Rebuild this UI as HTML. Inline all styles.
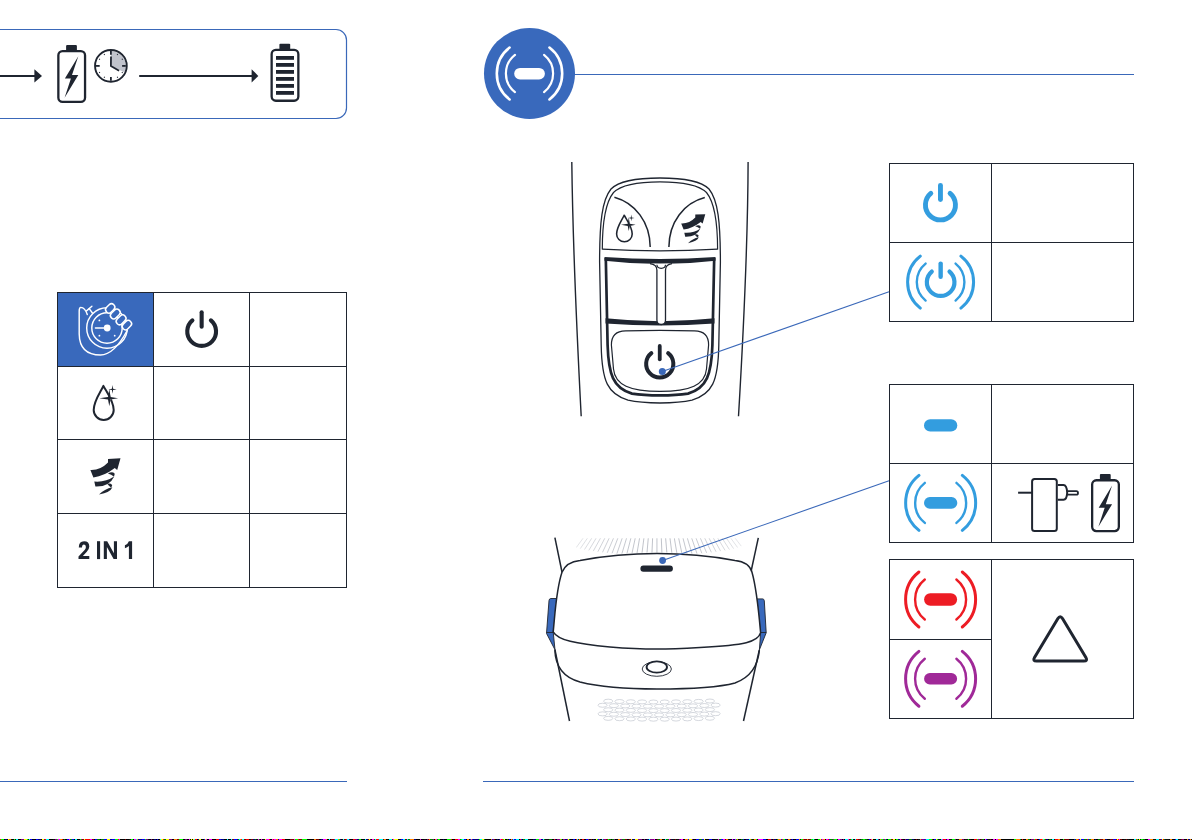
<!DOCTYPE html><html><head><meta charset="utf-8"><style>html,body{margin:0;padding:0;background:#fff;width:1192px;height:840px;overflow:hidden;font-family:"Liberation Sans",sans-serif;}svg{position:absolute;left:0;top:0;display:block}</style></head><body>
<svg width="1192" height="840" viewBox="0 0 1192 840">
<path d="M-20 29.5 H336 A10.5 10.5 0 0 1 346.5 40 V108 A10.5 10.5 0 0 1 336 118.5 H-20" fill="none" stroke="#3a68b9" stroke-width="1.2"/>
<line x1="-2" y1="75.9" x2="36" y2="75.9" stroke="#1f2530" stroke-width="2"/>
<polygon points="34.4,69.2 42,75.9 34.4,82.6" fill="#1f2530"/>
<g transform="translate(57.2 50)"><rect x="1.15" y="1.15" width="26.7" height="50.8" rx="4.2" fill="none" stroke="#1f2530" stroke-width="2.3"/><path d="M8.9 1.5 V-4 Q8.9 -5 9.9 -5 H18.7 Q19.7 -5 19.7 -4 V1.5 Z" fill="#1f2530"/><polygon points="21.1,6.3 7.7,28.6 13.7,28.6 7.4,47.7 21.1,25.1 14.8,25.1" fill="#1f2530"/></g>
<path d="M110.9 65.9 V50.9 A15 15 0 0 1 124.44 72.36 Z" fill="#c0c3cc"/>
<circle cx="110.9" cy="65.9" r="15.85" fill="none" stroke="#1f2530" stroke-width="1.9"/>
<line x1="110.9" y1="54.7" x2="110.9" y2="51" stroke="#1f2530" stroke-width="1.8"/>
<line x1="117.2" y1="54.99" x2="117.7" y2="54.12" stroke="#1f2530" stroke-width="1.1"/>
<line x1="121.81" y1="59.6" x2="122.68" y2="59.1" stroke="#1f2530" stroke-width="1.1"/>
<line x1="122.1" y1="65.9" x2="125.8" y2="65.9" stroke="#1f2530" stroke-width="1.8"/>
<line x1="121.81" y1="72.2" x2="122.68" y2="72.7" stroke="#1f2530" stroke-width="1.1"/>
<line x1="117.2" y1="76.81" x2="117.7" y2="77.68" stroke="#1f2530" stroke-width="1.1"/>
<line x1="110.9" y1="77.1" x2="110.9" y2="80.8" stroke="#1f2530" stroke-width="1.8"/>
<line x1="104.6" y1="76.81" x2="104.1" y2="77.68" stroke="#1f2530" stroke-width="1.1"/>
<line x1="99.99" y1="72.2" x2="99.12" y2="72.7" stroke="#1f2530" stroke-width="1.1"/>
<line x1="99.7" y1="65.9" x2="96" y2="65.9" stroke="#1f2530" stroke-width="1.8"/>
<line x1="99.99" y1="59.6" x2="99.12" y2="59.1" stroke="#1f2530" stroke-width="1.1"/>
<line x1="104.6" y1="54.99" x2="104.1" y2="54.12" stroke="#1f2530" stroke-width="1.1"/>
<polyline points="111,56.5 110.9,65.9 119.1,70.8" fill="none" stroke="#1f2530" stroke-width="1.8" stroke-linejoin="round"/>
<line x1="139.2" y1="75.9" x2="253" y2="75.9" stroke="#1f2530" stroke-width="2"/>
<polygon points="251.6,69.2 258.3,75.9 251.6,82.6" fill="#1f2530"/>
<g transform="translate(270.5 48.8)"><rect x="1.15" y="1.15" width="26.7" height="50.8" rx="4.2" fill="none" stroke="#1f2530" stroke-width="2.3"/><path d="M8.9 1.5 V-4 Q8.9 -5 9.9 -5 H18.7 Q19.7 -5 19.7 -4 V1.5 Z" fill="#1f2530"/><rect x="5.5" y="7.2" width="18" height="3.8" fill="#1f2530"/><rect x="5.5" y="14.2" width="18" height="3.8" fill="#1f2530"/><rect x="5.5" y="21.2" width="18" height="3.8" fill="#1f2530"/><rect x="5.5" y="28.2" width="18" height="3.8" fill="#1f2530"/><rect x="5.5" y="35.2" width="18" height="3.8" fill="#1f2530"/><rect x="5.5" y="42.2" width="18" height="3.8" fill="#1f2530"/></g>
<line x1="570" y1="74.5" x2="1134" y2="74.5" stroke="#3a68b9" stroke-width="1.1"/>
<circle cx="529.5" cy="73.5" r="45.5" fill="#3969bc"/>
<rect x="514.2" y="67.9" width="30.7" height="11.6" rx="5.8" fill="#fff"/>
<path d="M514.97 54.9 A23.6 23.6 0 0 0 514.97 92.1" fill="none" stroke="#fff" stroke-width="2.2" stroke-linecap="round"/><path d="M544.03 54.9 A23.6 23.6 0 0 1 544.03 92.1" fill="none" stroke="#fff" stroke-width="2.2" stroke-linecap="round"/>
<path d="M509.59 47.56 A32.7 32.7 0 0 0 509.59 99.44" fill="none" stroke="#fff" stroke-width="2.6" stroke-linecap="round"/><path d="M549.41 47.56 A32.7 32.7 0 0 1 549.41 99.44" fill="none" stroke="#fff" stroke-width="2.6" stroke-linecap="round"/>
<line x1="0" y1="781.5" x2="347" y2="781.5" stroke="#3a68b9" stroke-width="1.1"/>
<line x1="483" y1="781.5" x2="1134" y2="781.5" stroke="#3a68b9" stroke-width="1.1"/>
<rect x="57.5" y="292.5" width="96" height="74" fill="#3969bc"/>
<g stroke="#1f2530" stroke-width="1" fill="none" shape-rendering="crispEdges">
<rect x="57.5" y="292.5" width="289" height="295"/>
<line x1="153.5" y1="292" x2="153.5" y2="588"/>
<line x1="249.5" y1="292" x2="249.5" y2="588"/>
<line x1="57" y1="366.5" x2="347" y2="366.5"/>
<line x1="57" y1="439.5" x2="347" y2="439.5"/>
<line x1="57" y1="513.5" x2="347" y2="513.5"/>
</g>
<path d="M192.39 320.42 A14.4 14.4 0 1 0 210.91 320.42" fill="none" stroke="#1f2530" stroke-width="4.1" stroke-linecap="round"/><line x1="201.65" y1="312.35" x2="201.65" y2="326.65" stroke="#1f2530" stroke-width="4.1" stroke-linecap="round"/>
<g stroke="#1f2530" stroke-width="1" fill="none" shape-rendering="crispEdges">
<rect x="889.5" y="163.5" width="244" height="158"/>
<line x1="991.5" y1="163" x2="991.5" y2="322"/>
<line x1="889" y1="242.5" x2="1134" y2="242.5"/>
<rect x="889.5" y="384.5" width="244" height="158"/>
<line x1="991.5" y1="384" x2="991.5" y2="543"/>
<line x1="889" y1="463.5" x2="1134" y2="463.5"/>
<rect x="889.5" y="559.5" width="244" height="159"/>
<line x1="991.5" y1="559" x2="991.5" y2="719"/>
<line x1="889" y1="639.5" x2="992" y2="639.5"/>
</g>
<path d="M930.81 193.41 A15 15 0 1 0 950.09 193.41" fill="none" stroke="#339ddf" stroke-width="4.9" stroke-linecap="round"/><line x1="940.45" y1="185.35" x2="940.45" y2="199.55" stroke="#339ddf" stroke-width="4.9" stroke-linecap="round"/>
<path d="M931.78 271.53 A13.8 13.8 0 1 0 949.52 271.53" fill="none" stroke="#339ddf" stroke-width="4.2" stroke-linecap="round"/><line x1="940.65" y1="263.6" x2="940.65" y2="276.8" stroke="#339ddf" stroke-width="4.4" stroke-linecap="round"/>
<path d="M925.62 263.6 A23.8 23.8 0 0 0 925.62 300.6" fill="none" stroke="#339ddf" stroke-width="2.4" stroke-linecap="round"/><path d="M955.58 263.6 A23.8 23.8 0 0 1 955.58 300.6" fill="none" stroke="#339ddf" stroke-width="2.4" stroke-linecap="round"/>
<path d="M920.28 256.1 A33 33 0 0 0 920.28 308.1" fill="none" stroke="#339ddf" stroke-width="3" stroke-linecap="round"/><path d="M960.92 256.1 A33 33 0 0 1 960.92 308.1" fill="none" stroke="#339ddf" stroke-width="3" stroke-linecap="round"/>
<rect x="924" y="419.2" width="33.3" height="12.4" rx="6.2" fill="#339ddf"/>
<rect x="924" y="497.1" width="33.3" height="11.6" rx="5.8" fill="#339ddf"/>
<path d="M924.85 482.89 A25.5 25.5 0 0 0 924.85 522.91" fill="none" stroke="#339ddf" stroke-width="2.4" stroke-linecap="round"/><path d="M956.45 482.89 A25.5 25.5 0 0 1 956.45 522.91" fill="none" stroke="#339ddf" stroke-width="2.4" stroke-linecap="round"/>
<path d="M918.96 475.43 A35 35 0 0 0 918.96 530.37" fill="none" stroke="#339ddf" stroke-width="3" stroke-linecap="round"/><path d="M962.34 475.43 A35 35 0 0 1 962.34 530.37" fill="none" stroke="#339ddf" stroke-width="3" stroke-linecap="round"/>
<g transform="translate(1091 479.1)"><rect x="1.15" y="1.15" width="26.7" height="50.8" rx="4.2" fill="none" stroke="#1f2530" stroke-width="2.3"/><path d="M8.9 1.5 V-4 Q8.9 -5 9.9 -5 H18.7 Q19.7 -5 19.7 -4 V1.5 Z" fill="#1f2530"/><polygon points="21.1,6.3 7.7,28.6 13.7,28.6 7.4,47.7 21.1,25.1 14.8,25.1" fill="#1f2530"/></g>
<g fill="none" stroke="#1f2530" stroke-width="2">
<rect x="1032.1" y="479.1" width="24.7" height="51.8" rx="2.5"/>
<line x1="1018.1" y1="492.7" x2="1032" y2="492.7"/>
<path d="M1057.8 485.1 H1063.5 Q1066.8 485.1 1067.2 492.9 Q1066.8 499.7 1063.5 499.7 H1057.8"/>
<path d="M1067.4 491.1 H1076.3 Q1078 491.1 1078 492.9 Q1078 494.7 1076.3 494.7 H1067.4" stroke-width="1.8"/>
</g>
<rect x="924.1" y="593.2" width="33" height="12.5" rx="6.2" fill="#ed1c24"/>
<path d="M924.8 579.49 A25.5 25.5 0 0 0 924.8 619.51" fill="none" stroke="#ed1c24" stroke-width="2.4" stroke-linecap="round"/><path d="M956.4 579.49 A25.5 25.5 0 0 1 956.4 619.51" fill="none" stroke="#ed1c24" stroke-width="2.4" stroke-linecap="round"/>
<path d="M918.91 572.03 A35 35 0 0 0 918.91 626.97" fill="none" stroke="#ed1c24" stroke-width="3" stroke-linecap="round"/><path d="M962.29 572.03 A35 35 0 0 1 962.29 626.97" fill="none" stroke="#ed1c24" stroke-width="3" stroke-linecap="round"/>
<rect x="924.1" y="673" width="33" height="11.5" rx="5.7" fill="#a02998"/>
<path d="M924.8 658.79 A25.5 25.5 0 0 0 924.8 698.81" fill="none" stroke="#a02998" stroke-width="2.4" stroke-linecap="round"/><path d="M956.4 658.79 A25.5 25.5 0 0 1 956.4 698.81" fill="none" stroke="#a02998" stroke-width="2.4" stroke-linecap="round"/>
<path d="M918.91 651.33 A35 35 0 0 0 918.91 706.27" fill="none" stroke="#a02998" stroke-width="3" stroke-linecap="round"/><path d="M962.29 651.33 A35 35 0 0 1 962.29 706.27" fill="none" stroke="#a02998" stroke-width="3" stroke-linecap="round"/>
<path d="M1057.9 618.6 Q1060.2 614.7 1062.5 618.6 L1085.9 657.5 Q1088 661.1 1083.8 661.1 H1036.6 Q1032.4 661.1 1034.5 657.5 Z" fill="none" stroke="#1f2530" stroke-width="3" stroke-linejoin="round"/>
<g fill="none" stroke="#fff" stroke-width="1.45" stroke-linecap="round" stroke-linejoin="round">
<circle cx="107" cy="328" r="15.2"/>
<circle cx="107" cy="328" r="20.3"/>
<path d="M87.3 314.5 Q85 307.6 80.8 307.4 Q79.2 307.5 79.2 311 L79.2 334 Q79.5 355 100.5 355 Q114 355 127.2 330.5"/>
<line x1="86.5" y1="310.9" x2="91.9" y2="306.3"/>
<line x1="89.2" y1="308.6" x2="92.6" y2="313.2"/>
<line x1="95.4" y1="328" x2="106" y2="328"/>
</g>
<circle cx="107.2" cy="328" r="3.4" fill="#fff"/>
<circle cx="99.4" cy="320.4" r="0.9" fill="#fff"/>
<circle cx="99.4" cy="335.7" r="0.9" fill="#fff"/>
<circle cx="114.7" cy="335.7" r="0.9" fill="#fff"/>
<rect x="105.1" y="305.1" width="10.2" height="6.6" rx="3.3" transform="rotate(-45 110.2 308.4)" fill="#3969bc" stroke="#fff" stroke-width="1.5"/>
<rect x="109.8" y="310.7" width="11" height="6.6" rx="3.3" transform="rotate(-45 115.3 314)" fill="#3969bc" stroke="#fff" stroke-width="1.5"/>
<rect x="115.6" y="316.5" width="11" height="6.6" rx="3.3" transform="rotate(-45 121.1 319.8)" fill="#3969bc" stroke="#fff" stroke-width="1.5"/>
<rect x="121.7" y="321.8" width="10.4" height="6.6" rx="3.3" transform="rotate(-45 126.9 325.1)" fill="#3969bc" stroke="#fff" stroke-width="1.5"/>
<g transform="translate(103.7 410) scale(1)"><path d="M-0.3 -24.1 C-3 -18 -10 -9 -10 0 A10 10 0 0 0 10 0 C10 -9 3 -18 -0.3 -24.1 Z" fill="none" stroke="#1f2530" stroke-width="2" stroke-linejoin="round"/><circle cx="5.6" cy="-11.7" r="2.3" fill="#fff"/><polygon points="-4.4,-11.7 4.3,-13 5.6,-21 6.9,-13 14.4,-11.7 6.9,-10.4 5.6,-3.7 4.3,-10.4" fill="#1f2530"/><polygon points="4.7,-20.6 8.2,-21.2 8.8,-24.9 9.4,-21.2 13,-20.6 9.4,-20 8.8,-16.3 8.2,-20" fill="#1f2530"/></g>
<g transform="translate(90.4 458) scale(1)" fill="#1f2530"><path d="M0 12 Q10 12.5 17.6 4.6 L17.6 0.9 L30.1 0.3 L26.8 11.9 L24.4 10 Q14 18 3 19.4 Z"/><path d="M17.5 15.4 Q22 13 24.2 15.5 Q24.5 17 23.4 18.6 Q21 16.5 17.5 15.4 Z"/><path d="M3.9 23.5 Q15 24.5 24 18.2 Q19 29 5 28.5 Z"/><path d="M16.8 25.8 Q20 25 21.8 27 Q21.6 28.5 20.5 29.5 Q18 27.5 16.8 25.8 Z"/><path d="M8.6 36.6 Q14 31 22 29.3 Q20 34.5 8.6 36.6 Z"/></g>
<g fill="#1f2530">
<path d="M78.8 547.4 Q78.8 541.3 84.1 541.3 Q89.3 541.3 89.3 546.6 Q89.3 549.2 86.8 551.8 L82.9 555.9 H89.3 V559.1 H78.5 V556.6 L84.4 550.2 Q85.9 548.5 85.9 546.9 Q85.9 544.4 84 544.4 Q82 544.4 82 547.4 Z"/>
<rect x="97" y="541.2" width="3.1" height="17.9"/>
<path d="M103.8 541.2 H107.2 L113.9 553.3 V541.2 H117 V559.1 H113.6 L106.9 547 V559.1 H103.8 Z"/>
<path d="M128.9 541.2 H132.1 V559.1 H128.9 V546.1 Q127.2 547.7 124.9 548.2 V545.2 Q127.8 544.3 128.9 541.2 Z"/>
</g>
<g fill="none" stroke="#1f2530" stroke-width="1.4">
<path d="M571.8 162 Q573 260 581.2 416.2"/>
<path d="M748.1 162 Q747.8 260 738.5 416.2"/>
<path d="M660 178 C680 178 700 180 709 189 C718 200 720.4 222 720.4 262 L718.8 345 C718.2 382 712 394 692 400.2 C680 403 670 403 660 403 C650 403 640 403 628 400.2 C608 394 601.8 382 601.2 345 L599.6 262 C599.6 222 602 200 611 189 C620 180 640 178 660 178 Z" stroke-width="1.3"/>
<path d="M602.3 249.5 C602.3 222 605 203 613.5 192.5 C622 184 641 181.8 660 181.8 C679 181.8 698 184 706.5 192.5 C715 203 717.6 222 717.6 249.5" stroke-width="1.2"/>
<path d="M602.3 249.2 Q660 252.6 717.6 249.2" stroke-width="1.3"/>
<path d="M614.4 197.3 C635 203 650 222 650.2 247.1" stroke-width="1.5"/>
<path d="M704.8 197.6 C684 203 669 222 668.9 247.1" stroke-width="1.5"/>
<path d="M605.8 258 L607.6 345 C608.5 374 613 388 632 393.6 C642 395.2 651 395.4 660 395.4 C669 395.4 678 395.2 688 393.6 C707 388 711.5 374 712.4 345 L714.2 258" stroke-width="2.7"/>
<path d="M625.5 330.9 Q660 330 694.5 330.9 Q708.6 331 708.6 345 L706.5 369 C705 385 690 391.4 660 391.4 C630 391.4 615 385 613.5 369 L611.4 345 Q611.4 331 625.5 330.9 Z" stroke-width="1.2"/>
</g>
<path d="M604.5 257 Q660 261.2 715.5 257 L715.5 260.7 Q660 267.3 604.5 260.7 Z" fill="#1f2530"/>
<path d="M605.5 318.3 Q660 324.1 714.5 318.3 L714.5 323.5 Q660 327.5 605.5 323.5 Z" fill="#1f2530"/>
<path d="M650 263.6 Q656.9 264.5 656.9 270 L656.9 320 Q657 324.5 661.2 324.5 Q665.5 324.5 665.5 320 L665.5 270 Q665.5 264.5 672 263.6" fill="#fff" stroke="#1f2530" stroke-width="1.3"/>
<path d="M656.9 264.8 Q657 268.3 661.2 268.3 Q665.5 268.3 665.5 264.8" fill="none" stroke="#1f2530" stroke-width="1.2"/>
<path d="M651.38 353.18 A13.6 13.6 0 1 0 668.12 353.18" fill="none" stroke="#1f2530" stroke-width="4" stroke-linecap="round"/><line x1="659.75" y1="346" x2="659.75" y2="359.3" stroke="#1f2530" stroke-width="3.8" stroke-linecap="round"/>
<g transform="translate(624.4 234) scale(0.78)"><path d="M-0.3 -24.1 C-3 -18 -10 -9 -10 0 A10 10 0 0 0 10 0 C10 -9 3 -18 -0.3 -24.1 Z" fill="none" stroke="#1f2530" stroke-width="2" stroke-linejoin="round"/><circle cx="5.6" cy="-11.7" r="2.3" fill="#fff"/><polygon points="-4.4,-11.7 4.3,-13 5.6,-21 6.9,-13 14.4,-11.7 6.9,-10.4 5.6,-3.7 4.3,-10.4" fill="#1f2530"/><polygon points="4.7,-20.6 8.2,-21.2 8.8,-24.9 9.4,-21.2 13,-20.6 9.4,-20 8.8,-16.3 8.2,-20" fill="#1f2530"/></g>
<g transform="translate(681.2 213.9) scale(0.8)" fill="#1f2530"><path d="M0 12 Q10 12.5 17.6 4.6 L17.6 0.9 L30.1 0.3 L26.8 11.9 L24.4 10 Q14 18 3 19.4 Z"/><path d="M17.5 15.4 Q22 13 24.2 15.5 Q24.5 17 23.4 18.6 Q21 16.5 17.5 15.4 Z"/><path d="M3.9 23.5 Q15 24.5 24 18.2 Q19 29 5 28.5 Z"/><path d="M16.8 25.8 Q20 25 21.8 27 Q21.6 28.5 20.5 29.5 Q18 27.5 16.8 25.8 Z"/><path d="M8.6 36.6 Q14 31 22 29.3 Q20 34.5 8.6 36.6 Z"/></g>
<line x1="662.3" y1="371.4" x2="889" y2="291.7" stroke="#3a68b9" stroke-width="1.1"/>
<circle cx="662.3" cy="371.4" r="3.5" fill="#3a68b9"/>
<line x1="583" y1="538.3" x2="576.34" y2="547.46" stroke="#9ea3ad" stroke-width="0.65" opacity="0.46"/>
<line x1="587.35" y1="538.3" x2="580.31" y2="548.58" stroke="#9ea3ad" stroke-width="0.65" opacity="0.52"/>
<line x1="591.7" y1="538.3" x2="584.49" y2="549.54" stroke="#9ea3ad" stroke-width="0.65" opacity="0.58"/>
<line x1="596.05" y1="538.3" x2="588.82" y2="550.38" stroke="#9ea3ad" stroke-width="0.65" opacity="0.63"/>
<line x1="600.4" y1="538.3" x2="593.28" y2="551.11" stroke="#9ea3ad" stroke-width="0.65" opacity="0.68"/>
<line x1="604.75" y1="538.3" x2="597.85" y2="551.75" stroke="#9ea3ad" stroke-width="0.65" opacity="0.73"/>
<line x1="609.1" y1="538.3" x2="602.51" y2="552.32" stroke="#9ea3ad" stroke-width="0.65" opacity="0.77"/>
<line x1="613.45" y1="538.3" x2="607.24" y2="552.81" stroke="#9ea3ad" stroke-width="0.65" opacity="0.81"/>
<line x1="617.8" y1="538.3" x2="612.04" y2="553.25" stroke="#9ea3ad" stroke-width="0.65" opacity="0.85"/>
<line x1="622.15" y1="538.3" x2="616.9" y2="553.63" stroke="#9ea3ad" stroke-width="0.65" opacity="0.88"/>
<line x1="626.5" y1="538.3" x2="621.89" y2="553.68" stroke="#9ea3ad" stroke-width="0.65" opacity="0.91"/>
<line x1="630.85" y1="538.3" x2="626.97" y2="553.4" stroke="#9ea3ad" stroke-width="0.65" opacity="0.93"/>
<line x1="635.2" y1="538.3" x2="632.02" y2="553.15" stroke="#9ea3ad" stroke-width="0.65" opacity="0.95"/>
<line x1="639.55" y1="538.3" x2="637.04" y2="552.95" stroke="#9ea3ad" stroke-width="0.65" opacity="0.97"/>
<line x1="643.9" y1="538.3" x2="642.03" y2="552.8" stroke="#9ea3ad" stroke-width="0.65" opacity="0.98"/>
<line x1="648.25" y1="538.3" x2="647.01" y2="552.69" stroke="#9ea3ad" stroke-width="0.65" opacity="0.99"/>
<line x1="652.6" y1="538.3" x2="651.98" y2="552.62" stroke="#9ea3ad" stroke-width="0.65" opacity="1"/>
<line x1="656.95" y1="538.3" x2="656.94" y2="552.6" stroke="#9ea3ad" stroke-width="0.65" opacity="1"/>
<line x1="661.3" y1="538.3" x2="661.9" y2="552.62" stroke="#9ea3ad" stroke-width="0.65" opacity="1"/>
<line x1="665.65" y1="538.3" x2="666.87" y2="552.69" stroke="#9ea3ad" stroke-width="0.65" opacity="0.99"/>
<line x1="670" y1="538.3" x2="671.85" y2="552.8" stroke="#9ea3ad" stroke-width="0.65" opacity="0.98"/>
<line x1="674.35" y1="538.3" x2="676.85" y2="552.95" stroke="#9ea3ad" stroke-width="0.65" opacity="0.97"/>
<line x1="678.7" y1="538.3" x2="681.87" y2="553.15" stroke="#9ea3ad" stroke-width="0.65" opacity="0.95"/>
<line x1="683.05" y1="538.3" x2="686.91" y2="553.39" stroke="#9ea3ad" stroke-width="0.65" opacity="0.93"/>
<line x1="687.4" y1="538.3" x2="691.99" y2="553.68" stroke="#9ea3ad" stroke-width="0.65" opacity="0.91"/>
<line x1="691.75" y1="538.3" x2="696.99" y2="553.64" stroke="#9ea3ad" stroke-width="0.65" opacity="0.88"/>
<line x1="696.1" y1="538.3" x2="701.85" y2="553.26" stroke="#9ea3ad" stroke-width="0.65" opacity="0.85"/>
<line x1="700.45" y1="538.3" x2="706.65" y2="552.83" stroke="#9ea3ad" stroke-width="0.65" opacity="0.81"/>
<line x1="704.8" y1="538.3" x2="711.39" y2="552.33" stroke="#9ea3ad" stroke-width="0.65" opacity="0.77"/>
<line x1="709.15" y1="538.3" x2="716.05" y2="551.76" stroke="#9ea3ad" stroke-width="0.65" opacity="0.73"/>
<line x1="713.5" y1="538.3" x2="720.62" y2="551.12" stroke="#9ea3ad" stroke-width="0.65" opacity="0.68"/>
<line x1="717.85" y1="538.3" x2="725.08" y2="550.39" stroke="#9ea3ad" stroke-width="0.65" opacity="0.63"/>
<line x1="722.2" y1="538.3" x2="729.41" y2="549.56" stroke="#9ea3ad" stroke-width="0.65" opacity="0.58"/>
<line x1="726.55" y1="538.3" x2="733.59" y2="548.61" stroke="#9ea3ad" stroke-width="0.65" opacity="0.52"/>
<line x1="730.9" y1="538.3" x2="737.57" y2="547.49" stroke="#9ea3ad" stroke-width="0.65" opacity="0.46"/>
<line x1="735.25" y1="538.3" x2="741.28" y2="546.15" stroke="#9ea3ad" stroke-width="0.65" opacity="0.4"/>
<g fill="none" stroke="#1f2530" stroke-width="1.5">
<line x1="554.9" y1="537.7" x2="562.2" y2="573"/>
<line x1="758.3" y1="537.9" x2="750.6" y2="573.5"/>
</g>
<path d="M550.8 598.5 H557.4 L553.2 632 L555 649.8 L546.5 633.4 L549 600.5 Q549.3 598.5 550.8 598.5 Z" fill="#3969bc" stroke="#1f2530" stroke-width="0.9" stroke-linejoin="round"/>
<line x1="546.5" y1="632.5" x2="553.5" y2="632.5" stroke="#1f2530" stroke-width="0.9"/>
<path d="M762.8 598.9 H756.8 L760.6 632.8 L759.4 649.8 L766.2 632.8 L764.3 600.8 Q764 598.9 762.8 598.9 Z" fill="#3969bc" stroke="#1f2530" stroke-width="0.9" stroke-linejoin="round"/>
<line x1="760.5" y1="632.5" x2="766.2" y2="632.5" stroke="#1f2530" stroke-width="0.9"/>
<g fill="none" stroke="#1f2530" stroke-width="1.5">
<path d="M553.2 631.8 C555 615 556 590 562 572.3 C565 565 570 561.5 580 560.5 C610 555 635 553.6 657 553.6 C680 553.6 705 555 735 560.5 C745 561.5 750 565 752 572.3 C757 590 759 615 760.6 632.8 C758 642 745 645 700 647.5 C680 648.6 670 649 657 649 C640 649 630 648.6 610 647 C575 644 558 640 553.2 631.8 Z" fill="#fff"/>
<path d="M554.9 649.5 C555.2 665 562 677 580 682 C600 687 630 689 657 689 C690 689 720 687 735 683 C752 677 758 665 759.4 649.8"/>
<line x1="555" y1="650" x2="569.5" y2="721"/>
<line x1="759.2" y1="650.5" x2="743.5" y2="721"/>
</g>
<ellipse cx="656.8" cy="669" rx="14.6" ry="7.3" fill="none" stroke="#1f2530" stroke-width="0.9"/>
<ellipse cx="656.8" cy="667" rx="10.2" ry="5.6" fill="#fff" stroke="#1f2530" stroke-width="1.9"/>
<rect x="640.4" y="565.6" width="32.5" height="6.1" rx="3" fill="#1f2530"/>
<ellipse cx="608.2" cy="701.17" rx="4.6" ry="2" fill="#fff" stroke="#c3c7d0" stroke-width="0.7"/>
<ellipse cx="619.5" cy="701.51" rx="4.6" ry="2" fill="#fff" stroke="#c3c7d0" stroke-width="0.7"/>
<ellipse cx="630.8" cy="701.76" rx="4.6" ry="2" fill="#fff" stroke="#c3c7d0" stroke-width="0.7"/>
<ellipse cx="642.1" cy="701.92" rx="4.6" ry="2" fill="#fff" stroke="#c3c7d0" stroke-width="0.7"/>
<ellipse cx="653.4" cy="702" rx="4.6" ry="2" fill="#fff" stroke="#c3c7d0" stroke-width="0.7"/>
<ellipse cx="664.7" cy="701.98" rx="4.6" ry="2" fill="#fff" stroke="#c3c7d0" stroke-width="0.7"/>
<ellipse cx="676" cy="701.87" rx="4.6" ry="2" fill="#fff" stroke="#c3c7d0" stroke-width="0.7"/>
<ellipse cx="687.3" cy="701.68" rx="4.6" ry="2" fill="#fff" stroke="#c3c7d0" stroke-width="0.7"/>
<ellipse cx="698.6" cy="701.39" rx="4.6" ry="2" fill="#fff" stroke="#c3c7d0" stroke-width="0.7"/>
<ellipse cx="709.9" cy="701.02" rx="4.6" ry="2" fill="#fff" stroke="#c3c7d0" stroke-width="0.7"/>
<ellipse cx="602.6" cy="705.26" rx="4.6" ry="2" fill="#fff" stroke="#c3c7d0" stroke-width="0.7"/>
<ellipse cx="613.9" cy="705.65" rx="4.6" ry="2" fill="#fff" stroke="#c3c7d0" stroke-width="0.7"/>
<ellipse cx="625.2" cy="705.95" rx="4.6" ry="2" fill="#fff" stroke="#c3c7d0" stroke-width="0.7"/>
<ellipse cx="636.5" cy="706.15" rx="4.6" ry="2" fill="#fff" stroke="#c3c7d0" stroke-width="0.7"/>
<ellipse cx="647.8" cy="706.27" rx="4.6" ry="2" fill="#fff" stroke="#c3c7d0" stroke-width="0.7"/>
<ellipse cx="659.1" cy="706.3" rx="4.6" ry="2" fill="#fff" stroke="#c3c7d0" stroke-width="0.7"/>
<ellipse cx="670.4" cy="706.24" rx="4.6" ry="2" fill="#fff" stroke="#c3c7d0" stroke-width="0.7"/>
<ellipse cx="681.7" cy="706.09" rx="4.6" ry="2" fill="#fff" stroke="#c3c7d0" stroke-width="0.7"/>
<ellipse cx="693" cy="705.85" rx="4.6" ry="2" fill="#fff" stroke="#c3c7d0" stroke-width="0.7"/>
<ellipse cx="704.3" cy="705.52" rx="4.6" ry="2" fill="#fff" stroke="#c3c7d0" stroke-width="0.7"/>
<ellipse cx="715.6" cy="705.1" rx="4.6" ry="2" fill="#fff" stroke="#c3c7d0" stroke-width="0.7"/>
<ellipse cx="608.2" cy="709.77" rx="4.6" ry="2" fill="#fff" stroke="#c3c7d0" stroke-width="0.7"/>
<ellipse cx="619.5" cy="710.11" rx="4.6" ry="2" fill="#fff" stroke="#c3c7d0" stroke-width="0.7"/>
<ellipse cx="630.8" cy="710.36" rx="4.6" ry="2" fill="#fff" stroke="#c3c7d0" stroke-width="0.7"/>
<ellipse cx="642.1" cy="710.52" rx="4.6" ry="2" fill="#fff" stroke="#c3c7d0" stroke-width="0.7"/>
<ellipse cx="653.4" cy="710.6" rx="4.6" ry="2" fill="#fff" stroke="#c3c7d0" stroke-width="0.7"/>
<ellipse cx="664.7" cy="710.58" rx="4.6" ry="2" fill="#fff" stroke="#c3c7d0" stroke-width="0.7"/>
<ellipse cx="676" cy="710.47" rx="4.6" ry="2" fill="#fff" stroke="#c3c7d0" stroke-width="0.7"/>
<ellipse cx="687.3" cy="710.28" rx="4.6" ry="2" fill="#fff" stroke="#c3c7d0" stroke-width="0.7"/>
<ellipse cx="698.6" cy="709.99" rx="4.6" ry="2" fill="#fff" stroke="#c3c7d0" stroke-width="0.7"/>
<ellipse cx="709.9" cy="709.62" rx="4.6" ry="2" fill="#fff" stroke="#c3c7d0" stroke-width="0.7"/>
<ellipse cx="602.6" cy="713.86" rx="4.6" ry="2" fill="#fff" stroke="#c3c7d0" stroke-width="0.7"/>
<ellipse cx="613.9" cy="714.25" rx="4.6" ry="2" fill="#fff" stroke="#c3c7d0" stroke-width="0.7"/>
<ellipse cx="625.2" cy="714.55" rx="4.6" ry="2" fill="#fff" stroke="#c3c7d0" stroke-width="0.7"/>
<ellipse cx="636.5" cy="714.75" rx="4.6" ry="2" fill="#fff" stroke="#c3c7d0" stroke-width="0.7"/>
<ellipse cx="647.8" cy="714.87" rx="4.6" ry="2" fill="#fff" stroke="#c3c7d0" stroke-width="0.7"/>
<ellipse cx="659.1" cy="714.9" rx="4.6" ry="2" fill="#fff" stroke="#c3c7d0" stroke-width="0.7"/>
<ellipse cx="670.4" cy="714.84" rx="4.6" ry="2" fill="#fff" stroke="#c3c7d0" stroke-width="0.7"/>
<ellipse cx="681.7" cy="714.69" rx="4.6" ry="2" fill="#fff" stroke="#c3c7d0" stroke-width="0.7"/>
<ellipse cx="693" cy="714.45" rx="4.6" ry="2" fill="#fff" stroke="#c3c7d0" stroke-width="0.7"/>
<ellipse cx="704.3" cy="714.12" rx="4.6" ry="2" fill="#fff" stroke="#c3c7d0" stroke-width="0.7"/>
<ellipse cx="715.6" cy="713.7" rx="4.6" ry="2" fill="#fff" stroke="#c3c7d0" stroke-width="0.7"/>
<ellipse cx="608.2" cy="718.37" rx="4.6" ry="2" fill="#fff" stroke="#c3c7d0" stroke-width="0.7"/>
<ellipse cx="619.5" cy="718.71" rx="4.6" ry="2" fill="#fff" stroke="#c3c7d0" stroke-width="0.7"/>
<ellipse cx="630.8" cy="718.96" rx="4.6" ry="2" fill="#fff" stroke="#c3c7d0" stroke-width="0.7"/>
<ellipse cx="642.1" cy="719.12" rx="4.6" ry="2" fill="#fff" stroke="#c3c7d0" stroke-width="0.7"/>
<ellipse cx="653.4" cy="719.2" rx="4.6" ry="2" fill="#fff" stroke="#c3c7d0" stroke-width="0.7"/>
<ellipse cx="664.7" cy="719.18" rx="4.6" ry="2" fill="#fff" stroke="#c3c7d0" stroke-width="0.7"/>
<ellipse cx="676" cy="719.07" rx="4.6" ry="2" fill="#fff" stroke="#c3c7d0" stroke-width="0.7"/>
<ellipse cx="687.3" cy="718.88" rx="4.6" ry="2" fill="#fff" stroke="#c3c7d0" stroke-width="0.7"/>
<ellipse cx="698.6" cy="718.59" rx="4.6" ry="2" fill="#fff" stroke="#c3c7d0" stroke-width="0.7"/>
<ellipse cx="709.9" cy="718.22" rx="4.6" ry="2" fill="#fff" stroke="#c3c7d0" stroke-width="0.7"/>
<line x1="662.6" y1="560.5" x2="889" y2="480.7" stroke="#3a68b9" stroke-width="1.1"/>
<circle cx="662.6" cy="560.5" r="3.4" fill="#3a68b9"/>
<g shape-rendering="crispEdges"><rect x="0" y="839" width="1" height="1" fill="#ff0000"/><rect x="1" y="839" width="3" height="1" fill="#00ff00"/><rect x="4" y="839" width="1" height="1" fill="#000000"/><rect x="5" y="839" width="2" height="1" fill="#000080"/><rect x="7" y="839" width="1" height="1" fill="#000000"/><rect x="8" y="839" width="1" height="1" fill="#ffff00"/><rect x="9" y="839" width="2" height="1" fill="#ff8000"/><rect x="11" y="839" width="1" height="1" fill="#101010"/><rect x="12" y="839" width="2" height="1" fill="#000000"/><rect x="14" y="839" width="1" height="1" fill="#00ff00"/><rect x="15" y="839" width="1" height="1" fill="#101010"/><rect x="16" y="839" width="2" height="1" fill="#00ffff"/><rect x="18" y="839" width="3" height="1" fill="#000000"/><rect x="21" y="839" width="3" height="1" fill="#800080"/><rect x="24" y="839" width="3" height="1" fill="#ffff00"/><rect x="27" y="839" width="1" height="1" fill="#00ff00"/><rect x="28" y="839" width="1" height="1" fill="#101010"/><rect x="29" y="839" width="1" height="1" fill="#00ffff"/><rect x="30" y="839" width="2" height="1" fill="#0000ff"/><rect x="32" y="839" width="4" height="1" fill="#000000"/><rect x="36" y="839" width="2" height="1" fill="#0000ff"/><rect x="38" y="839" width="3" height="1" fill="#000080"/><rect x="41" y="839" width="1" height="1" fill="#000000"/><rect x="42" y="839" width="2" height="1" fill="#ffff00"/><rect x="44" y="839" width="1" height="1" fill="#800080"/><rect x="45" y="839" width="1" height="1" fill="#ff0000"/><rect x="46" y="839" width="3" height="1" fill="#00ffff"/><rect x="49" y="839" width="4" height="1" fill="#000000"/><rect x="53" y="839" width="2" height="1" fill="#101010"/><rect x="55" y="839" width="2" height="1" fill="#800080"/><rect x="57" y="839" width="1" height="1" fill="#00ff00"/><rect x="58" y="839" width="2" height="1" fill="#ff00ff"/><rect x="60" y="839" width="2" height="1" fill="#ff8000"/><rect x="62" y="839" width="1" height="1" fill="#ff0000"/><rect x="63" y="839" width="1" height="1" fill="#101010"/><rect x="64" y="839" width="1" height="1" fill="#008000"/><rect x="65" y="839" width="2" height="1" fill="#000000"/><rect x="67" y="839" width="2" height="1" fill="#0000ff"/><rect x="69" y="839" width="1" height="1" fill="#ff00ff"/><rect x="70" y="839" width="2" height="1" fill="#008000"/><rect x="72" y="839" width="2" height="1" fill="#0000ff"/><rect x="74" y="839" width="1" height="1" fill="#000000"/><rect x="75" y="839" width="2" height="1" fill="#00ffff"/><rect x="77" y="839" width="3" height="1" fill="#000000"/><rect x="80" y="839" width="1" height="1" fill="#00ff00"/><rect x="81" y="839" width="1" height="1" fill="#800080"/><rect x="82" y="839" width="2" height="1" fill="#800000"/><rect x="84" y="839" width="1" height="1" fill="#ffff00"/><rect x="85" y="839" width="5" height="1" fill="#ff0000"/><rect x="90" y="839" width="2" height="1" fill="#ff00ff"/><rect x="92" y="839" width="2" height="1" fill="#800000"/><rect x="94" y="839" width="1" height="1" fill="#000000"/><rect x="95" y="839" width="2" height="1" fill="#0000ff"/><rect x="97" y="839" width="3" height="1" fill="#008000"/><rect x="100" y="839" width="1" height="1" fill="#000000"/><rect x="101" y="839" width="3" height="1" fill="#008000"/><rect x="104" y="839" width="3" height="1" fill="#0000ff"/><rect x="107" y="839" width="3" height="1" fill="#ffff00"/><rect x="110" y="839" width="2" height="1" fill="#000080"/><rect x="112" y="839" width="3" height="1" fill="#0000ff"/><rect x="115" y="839" width="3" height="1" fill="#00ff00"/><rect x="118" y="839" width="1" height="1" fill="#ff0000"/><rect x="119" y="839" width="1" height="1" fill="#ff00ff"/><rect x="120" y="839" width="5" height="1" fill="#000000"/><rect x="125" y="839" width="1" height="1" fill="#800000"/><rect x="126" y="839" width="3" height="1" fill="#000000"/><rect x="129" y="839" width="2" height="1" fill="#101010"/><rect x="131" y="839" width="2" height="1" fill="#00ff00"/><rect x="133" y="839" width="1" height="1" fill="#000000"/><rect x="134" y="839" width="2" height="1" fill="#ff00ff"/><rect x="136" y="839" width="1" height="1" fill="#00ffff"/><rect x="137" y="839" width="1" height="1" fill="#ff8000"/><rect x="138" y="839" width="4" height="1" fill="#000080"/><rect x="142" y="839" width="3" height="1" fill="#0000ff"/><rect x="145" y="839" width="1" height="1" fill="#00ff00"/><rect x="146" y="839" width="2" height="1" fill="#800080"/><rect x="148" y="839" width="1" height="1" fill="#101010"/><rect x="149" y="839" width="2" height="1" fill="#000000"/><rect x="151" y="839" width="1" height="1" fill="#800080"/><rect x="152" y="839" width="2" height="1" fill="#000000"/><rect x="154" y="839" width="2" height="1" fill="#000080"/><rect x="156" y="839" width="1" height="1" fill="#000000"/><rect x="157" y="839" width="1" height="1" fill="#0000ff"/><rect x="158" y="839" width="2" height="1" fill="#000000"/><rect x="160" y="839" width="1" height="1" fill="#00ffff"/><rect x="161" y="839" width="2" height="1" fill="#ffff00"/><rect x="163" y="839" width="1" height="1" fill="#ff0000"/><rect x="164" y="839" width="2" height="1" fill="#008000"/><rect x="166" y="839" width="3" height="1" fill="#ffff00"/><rect x="169" y="839" width="3" height="1" fill="#800080"/><rect x="172" y="839" width="2" height="1" fill="#000000"/><rect x="174" y="839" width="3" height="1" fill="#ff8000"/><rect x="177" y="839" width="2" height="1" fill="#800000"/><rect x="179" y="839" width="4" height="1" fill="#00ff00"/><rect x="183" y="839" width="2" height="1" fill="#000000"/><rect x="185" y="839" width="2" height="1" fill="#800080"/><rect x="187" y="839" width="2" height="1" fill="#000000"/><rect x="189" y="839" width="1" height="1" fill="#ff00ff"/><rect x="190" y="839" width="1" height="1" fill="#000000"/><rect x="191" y="839" width="1" height="1" fill="#ffff00"/><rect x="192" y="839" width="1" height="1" fill="#000000"/><rect x="193" y="839" width="1" height="1" fill="#ffff00"/><rect x="194" y="839" width="1" height="1" fill="#00ffff"/><rect x="195" y="839" width="2" height="1" fill="#ff0000"/><rect x="197" y="839" width="1" height="1" fill="#000000"/><rect x="198" y="839" width="1" height="1" fill="#000080"/><rect x="199" y="839" width="2" height="1" fill="#ffff00"/><rect x="201" y="839" width="3" height="1" fill="#000000"/><rect x="204" y="839" width="1" height="1" fill="#0000ff"/><rect x="205" y="839" width="1" height="1" fill="#ffff00"/><rect x="206" y="839" width="1" height="1" fill="#ff00ff"/><rect x="207" y="839" width="2" height="1" fill="#000000"/><rect x="209" y="839" width="3" height="1" fill="#ff00ff"/><rect x="212" y="839" width="4" height="1" fill="#000000"/><rect x="216" y="839" width="3" height="1" fill="#ff0000"/><rect x="219" y="839" width="2" height="1" fill="#0000ff"/><rect x="221" y="839" width="3" height="1" fill="#000080"/><rect x="224" y="839" width="3" height="1" fill="#000000"/><rect x="227" y="839" width="1" height="1" fill="#00ffff"/><rect x="228" y="839" width="3" height="1" fill="#000000"/><rect x="231" y="839" width="1" height="1" fill="#00ffff"/><rect x="232" y="839" width="2" height="1" fill="#800000"/><rect x="234" y="839" width="3" height="1" fill="#0000ff"/><rect x="237" y="839" width="1" height="1" fill="#000080"/><rect x="238" y="839" width="1" height="1" fill="#008000"/><rect x="239" y="839" width="1" height="1" fill="#00ffff"/><rect x="240" y="839" width="1" height="1" fill="#ff8000"/><rect x="241" y="839" width="1" height="1" fill="#ff0000"/><rect x="242" y="839" width="2" height="1" fill="#00ffff"/><rect x="244" y="839" width="2" height="1" fill="#800000"/><rect x="246" y="839" width="3" height="1" fill="#ff0000"/><rect x="249" y="839" width="2" height="1" fill="#101010"/><rect x="251" y="839" width="2" height="1" fill="#800000"/><rect x="253" y="839" width="2" height="1" fill="#000080"/><rect x="255" y="839" width="1" height="1" fill="#008000"/><rect x="256" y="839" width="2" height="1" fill="#101010"/><rect x="258" y="839" width="1" height="1" fill="#ff00ff"/><rect x="259" y="839" width="1" height="1" fill="#008000"/><rect x="260" y="839" width="1" height="1" fill="#000000"/><rect x="261" y="839" width="1" height="1" fill="#ff00ff"/><rect x="262" y="839" width="3" height="1" fill="#101010"/><rect x="265" y="839" width="1" height="1" fill="#ffff00"/><rect x="266" y="839" width="3" height="1" fill="#ff00ff"/><rect x="269" y="839" width="1" height="1" fill="#ff0000"/><rect x="270" y="839" width="2" height="1" fill="#000000"/><rect x="272" y="839" width="1" height="1" fill="#ff00ff"/><rect x="273" y="839" width="1" height="1" fill="#ff0000"/><rect x="274" y="839" width="2" height="1" fill="#ff00ff"/><rect x="276" y="839" width="2" height="1" fill="#ff8000"/><rect x="278" y="839" width="1" height="1" fill="#000080"/><rect x="279" y="839" width="3" height="1" fill="#ff00ff"/><rect x="282" y="839" width="3" height="1" fill="#ff0000"/><rect x="285" y="839" width="5" height="1" fill="#000000"/><rect x="290" y="839" width="4" height="1" fill="#800000"/><rect x="294" y="839" width="1" height="1" fill="#ff00ff"/><rect x="295" y="839" width="3" height="1" fill="#00ff00"/><rect x="298" y="839" width="1" height="1" fill="#ff0000"/><rect x="299" y="839" width="3" height="1" fill="#800000"/><rect x="302" y="839" width="5" height="1" fill="#00ff00"/><rect x="307" y="839" width="7" height="1" fill="#000000"/><rect x="314" y="839" width="2" height="1" fill="#ff8000"/><rect x="316" y="839" width="3" height="1" fill="#800000"/><rect x="319" y="839" width="2" height="1" fill="#000000"/><rect x="321" y="839" width="2" height="1" fill="#000080"/><rect x="323" y="839" width="3" height="1" fill="#ff00ff"/><rect x="326" y="839" width="1" height="1" fill="#ff8000"/><rect x="327" y="839" width="2" height="1" fill="#000000"/><rect x="329" y="839" width="1" height="1" fill="#00ffff"/><rect x="330" y="839" width="1" height="1" fill="#000000"/><rect x="331" y="839" width="3" height="1" fill="#800000"/><rect x="334" y="839" width="1" height="1" fill="#800080"/><rect x="335" y="839" width="3" height="1" fill="#00ffff"/><rect x="338" y="839" width="1" height="1" fill="#ff8000"/><rect x="339" y="839" width="1" height="1" fill="#00ff00"/><rect x="340" y="839" width="1" height="1" fill="#000080"/><rect x="341" y="839" width="1" height="1" fill="#000000"/><rect x="342" y="839" width="1" height="1" fill="#101010"/><rect x="343" y="839" width="1" height="1" fill="#00ffff"/><rect x="344" y="839" width="2" height="1" fill="#800000"/><rect x="346" y="839" width="1" height="1" fill="#ff0000"/><rect x="347" y="839" width="2" height="1" fill="#00ffff"/><rect x="349" y="839" width="1" height="1" fill="#000080"/><rect x="350" y="839" width="3" height="1" fill="#000000"/><rect x="353" y="839" width="2" height="1" fill="#ff0000"/><rect x="355" y="839" width="2" height="1" fill="#800080"/><rect x="357" y="839" width="2" height="1" fill="#000080"/><rect x="359" y="839" width="2" height="1" fill="#00ff00"/><rect x="361" y="839" width="4" height="1" fill="#000000"/><rect x="365" y="839" width="1" height="1" fill="#00ffff"/><rect x="366" y="839" width="2" height="1" fill="#000080"/><rect x="368" y="839" width="1" height="1" fill="#800000"/><rect x="369" y="839" width="1" height="1" fill="#ffff00"/><rect x="370" y="839" width="1" height="1" fill="#800000"/><rect x="371" y="839" width="1" height="1" fill="#000000"/><rect x="372" y="839" width="2" height="1" fill="#ff00ff"/><rect x="374" y="839" width="1" height="1" fill="#008000"/><rect x="375" y="839" width="1" height="1" fill="#00ffff"/><rect x="376" y="839" width="3" height="1" fill="#ff0000"/><rect x="379" y="839" width="4" height="1" fill="#00ffff"/><rect x="383" y="839" width="1" height="1" fill="#800000"/><rect x="384" y="839" width="2" height="1" fill="#ff8000"/><rect x="386" y="839" width="1" height="1" fill="#000000"/><rect x="387" y="839" width="1" height="1" fill="#101010"/><rect x="388" y="839" width="1" height="1" fill="#000000"/><rect x="389" y="839" width="3" height="1" fill="#00ffff"/><rect x="392" y="839" width="1" height="1" fill="#800000"/><rect x="393" y="839" width="1" height="1" fill="#ff00ff"/><rect x="394" y="839" width="4" height="1" fill="#ffff00"/><rect x="398" y="839" width="3" height="1" fill="#101010"/><rect x="401" y="839" width="2" height="1" fill="#0000ff"/><rect x="403" y="839" width="2" height="1" fill="#00ffff"/><rect x="405" y="839" width="2" height="1" fill="#800000"/><rect x="407" y="839" width="1" height="1" fill="#00ffff"/><rect x="408" y="839" width="2" height="1" fill="#008000"/><rect x="410" y="839" width="4" height="1" fill="#ff8000"/><rect x="414" y="839" width="2" height="1" fill="#000080"/><rect x="416" y="839" width="4" height="1" fill="#000000"/><rect x="420" y="839" width="1" height="1" fill="#ff00ff"/><rect x="421" y="839" width="3" height="1" fill="#000000"/><rect x="424" y="839" width="2" height="1" fill="#101010"/><rect x="426" y="839" width="1" height="1" fill="#000000"/><rect x="427" y="839" width="1" height="1" fill="#800080"/><rect x="428" y="839" width="1" height="1" fill="#800000"/><rect x="429" y="839" width="1" height="1" fill="#ff8000"/><rect x="430" y="839" width="3" height="1" fill="#008000"/><rect x="433" y="839" width="1" height="1" fill="#800080"/><rect x="434" y="839" width="1" height="1" fill="#000000"/><rect x="435" y="839" width="1" height="1" fill="#ff8000"/><rect x="436" y="839" width="1" height="1" fill="#ff00ff"/><rect x="437" y="839" width="1" height="1" fill="#008000"/><rect x="438" y="839" width="2" height="1" fill="#00ff00"/><rect x="440" y="839" width="3" height="1" fill="#000000"/><rect x="443" y="839" width="1" height="1" fill="#000080"/><rect x="444" y="839" width="3" height="1" fill="#000000"/><rect x="447" y="839" width="4" height="1" fill="#00ff00"/><rect x="451" y="839" width="1" height="1" fill="#ff0000"/><rect x="452" y="839" width="3" height="1" fill="#000000"/><rect x="455" y="839" width="3" height="1" fill="#ff0000"/><rect x="458" y="839" width="2" height="1" fill="#ff00ff"/><rect x="460" y="839" width="1" height="1" fill="#008000"/><rect x="461" y="839" width="1" height="1" fill="#00ff00"/><rect x="462" y="839" width="2" height="1" fill="#00ffff"/><rect x="464" y="839" width="2" height="1" fill="#0000ff"/><rect x="466" y="839" width="1" height="1" fill="#000000"/><rect x="467" y="839" width="2" height="1" fill="#ff8000"/><rect x="469" y="839" width="1" height="1" fill="#000000"/><rect x="470" y="839" width="1" height="1" fill="#0000ff"/><rect x="471" y="839" width="1" height="1" fill="#ff8000"/><rect x="472" y="839" width="1" height="1" fill="#0000ff"/><rect x="473" y="839" width="6" height="1" fill="#000080"/><rect x="479" y="839" width="1" height="1" fill="#00ff00"/><rect x="480" y="839" width="2" height="1" fill="#00ffff"/><rect x="482" y="839" width="2" height="1" fill="#ffff00"/><rect x="484" y="839" width="1" height="1" fill="#008000"/><rect x="485" y="839" width="6" height="1" fill="#000000"/><rect x="491" y="839" width="1" height="1" fill="#ff8000"/><rect x="492" y="839" width="1" height="1" fill="#0000ff"/><rect x="493" y="839" width="1" height="1" fill="#800080"/><rect x="494" y="839" width="1" height="1" fill="#800000"/><rect x="495" y="839" width="2" height="1" fill="#000000"/><rect x="497" y="839" width="1" height="1" fill="#000080"/><rect x="498" y="839" width="1" height="1" fill="#000000"/><rect x="499" y="839" width="1" height="1" fill="#000080"/><rect x="500" y="839" width="1" height="1" fill="#ff00ff"/><rect x="501" y="839" width="2" height="1" fill="#ff0000"/><rect x="503" y="839" width="1" height="1" fill="#00ff00"/><rect x="504" y="839" width="1" height="1" fill="#ffff00"/><rect x="505" y="839" width="2" height="1" fill="#000000"/><rect x="507" y="839" width="1" height="1" fill="#008000"/><rect x="508" y="839" width="1" height="1" fill="#000000"/><rect x="509" y="839" width="1" height="1" fill="#0000ff"/><rect x="510" y="839" width="1" height="1" fill="#000000"/><rect x="511" y="839" width="1" height="1" fill="#ff8000"/><rect x="512" y="839" width="1" height="1" fill="#800080"/><rect x="513" y="839" width="1" height="1" fill="#00ffff"/><rect x="514" y="839" width="2" height="1" fill="#0000ff"/><rect x="516" y="839" width="3" height="1" fill="#00ffff"/><rect x="519" y="839" width="1" height="1" fill="#000000"/><rect x="520" y="839" width="1" height="1" fill="#ff0000"/><rect x="521" y="839" width="1" height="1" fill="#0000ff"/><rect x="522" y="839" width="1" height="1" fill="#000000"/><rect x="523" y="839" width="2" height="1" fill="#008000"/><rect x="525" y="839" width="3" height="1" fill="#00ffff"/><rect x="528" y="839" width="2" height="1" fill="#101010"/><rect x="530" y="839" width="3" height="1" fill="#000000"/><rect x="533" y="839" width="3" height="1" fill="#000080"/><rect x="536" y="839" width="3" height="1" fill="#00ff00"/><rect x="539" y="839" width="2" height="1" fill="#ff00ff"/><rect x="541" y="839" width="2" height="1" fill="#000080"/><rect x="543" y="839" width="1" height="1" fill="#00ffff"/><rect x="544" y="839" width="1" height="1" fill="#008000"/><rect x="545" y="839" width="4" height="1" fill="#101010"/><rect x="549" y="839" width="3" height="1" fill="#008000"/><rect x="552" y="839" width="2" height="1" fill="#000000"/><rect x="554" y="839" width="1" height="1" fill="#ff0000"/><rect x="555" y="839" width="1" height="1" fill="#000080"/><rect x="556" y="839" width="1" height="1" fill="#000000"/><rect x="557" y="839" width="3" height="1" fill="#800080"/><rect x="560" y="839" width="1" height="1" fill="#ff8000"/><rect x="561" y="839" width="1" height="1" fill="#00ff00"/><rect x="562" y="839" width="1" height="1" fill="#000000"/><rect x="563" y="839" width="2" height="1" fill="#800080"/><rect x="565" y="839" width="2" height="1" fill="#000080"/><rect x="567" y="839" width="1" height="1" fill="#800080"/><rect x="568" y="839" width="1" height="1" fill="#ffff00"/><rect x="569" y="839" width="1" height="1" fill="#008000"/><rect x="570" y="839" width="3" height="1" fill="#000000"/><rect x="573" y="839" width="2" height="1" fill="#0000ff"/><rect x="575" y="839" width="1" height="1" fill="#000000"/><rect x="576" y="839" width="1" height="1" fill="#ff0000"/><rect x="577" y="839" width="1" height="1" fill="#00ffff"/><rect x="578" y="839" width="1" height="1" fill="#101010"/><rect x="579" y="839" width="1" height="1" fill="#ff8000"/><rect x="580" y="839" width="1" height="1" fill="#101010"/><rect x="581" y="839" width="1" height="1" fill="#000000"/><rect x="582" y="839" width="2" height="1" fill="#ff0000"/><rect x="584" y="839" width="2" height="1" fill="#000000"/><rect x="586" y="839" width="2" height="1" fill="#0000ff"/><rect x="588" y="839" width="1" height="1" fill="#800080"/><rect x="589" y="839" width="2" height="1" fill="#101010"/><rect x="591" y="839" width="1" height="1" fill="#800000"/><rect x="592" y="839" width="1" height="1" fill="#000000"/><rect x="593" y="839" width="1" height="1" fill="#000080"/><rect x="594" y="839" width="2" height="1" fill="#000000"/><rect x="596" y="839" width="1" height="1" fill="#ffff00"/><rect x="597" y="839" width="1" height="1" fill="#00ff00"/><rect x="598" y="839" width="1" height="1" fill="#0000ff"/><rect x="599" y="839" width="1" height="1" fill="#800080"/><rect x="600" y="839" width="2" height="1" fill="#000000"/><rect x="602" y="839" width="1" height="1" fill="#00ffff"/><rect x="603" y="839" width="3" height="1" fill="#800080"/><rect x="606" y="839" width="2" height="1" fill="#800000"/><rect x="608" y="839" width="1" height="1" fill="#00ff00"/><rect x="609" y="839" width="2" height="1" fill="#008000"/><rect x="611" y="839" width="1" height="1" fill="#000000"/><rect x="612" y="839" width="2" height="1" fill="#008000"/><rect x="614" y="839" width="1" height="1" fill="#800080"/><rect x="615" y="839" width="3" height="1" fill="#000000"/><rect x="618" y="839" width="2" height="1" fill="#ff8000"/><rect x="620" y="839" width="2" height="1" fill="#800080"/><rect x="622" y="839" width="3" height="1" fill="#008000"/><rect x="625" y="839" width="2" height="1" fill="#800000"/><rect x="627" y="839" width="2" height="1" fill="#000000"/><rect x="629" y="839" width="2" height="1" fill="#800000"/><rect x="631" y="839" width="1" height="1" fill="#ffff00"/><rect x="632" y="839" width="3" height="1" fill="#000080"/><rect x="635" y="839" width="3" height="1" fill="#ffff00"/><rect x="638" y="839" width="4" height="1" fill="#800080"/><rect x="642" y="839" width="2" height="1" fill="#000000"/><rect x="644" y="839" width="1" height="1" fill="#800080"/><rect x="645" y="839" width="2" height="1" fill="#000000"/><rect x="647" y="839" width="2" height="1" fill="#000080"/><rect x="649" y="839" width="1" height="1" fill="#00ffff"/><rect x="650" y="839" width="4" height="1" fill="#800080"/><rect x="654" y="839" width="1" height="1" fill="#ff00ff"/><rect x="655" y="839" width="2" height="1" fill="#000000"/><rect x="657" y="839" width="1" height="1" fill="#800000"/><rect x="658" y="839" width="2" height="1" fill="#008000"/><rect x="660" y="839" width="2" height="1" fill="#ff8000"/><rect x="662" y="839" width="3" height="1" fill="#000000"/><rect x="665" y="839" width="1" height="1" fill="#00ffff"/><rect x="666" y="839" width="3" height="1" fill="#008000"/><rect x="669" y="839" width="1" height="1" fill="#ff00ff"/><rect x="670" y="839" width="1" height="1" fill="#800000"/><rect x="671" y="839" width="1" height="1" fill="#000080"/><rect x="672" y="839" width="3" height="1" fill="#101010"/><rect x="675" y="839" width="1" height="1" fill="#800000"/><rect x="676" y="839" width="3" height="1" fill="#101010"/><rect x="679" y="839" width="2" height="1" fill="#800080"/><rect x="681" y="839" width="2" height="1" fill="#ff00ff"/><rect x="683" y="839" width="2" height="1" fill="#000000"/><rect x="685" y="839" width="3" height="1" fill="#ff8000"/><rect x="688" y="839" width="1" height="1" fill="#0000ff"/><rect x="689" y="839" width="3" height="1" fill="#ffff00"/><rect x="692" y="839" width="1" height="1" fill="#800080"/><rect x="693" y="839" width="3" height="1" fill="#000000"/><rect x="696" y="839" width="3" height="1" fill="#0000ff"/><rect x="699" y="839" width="3" height="1" fill="#008000"/><rect x="702" y="839" width="2" height="1" fill="#0000ff"/><rect x="704" y="839" width="1" height="1" fill="#ffff00"/><rect x="705" y="839" width="4" height="1" fill="#000000"/><rect x="709" y="839" width="3" height="1" fill="#0000ff"/><rect x="712" y="839" width="3" height="1" fill="#000000"/><rect x="715" y="839" width="3" height="1" fill="#101010"/><rect x="718" y="839" width="1" height="1" fill="#ff00ff"/><rect x="719" y="839" width="2" height="1" fill="#008000"/><rect x="721" y="839" width="2" height="1" fill="#0000ff"/><rect x="723" y="839" width="2" height="1" fill="#ff00ff"/><rect x="725" y="839" width="1" height="1" fill="#800000"/><rect x="726" y="839" width="2" height="1" fill="#ff8000"/><rect x="728" y="839" width="1" height="1" fill="#101010"/><rect x="729" y="839" width="3" height="1" fill="#000000"/><rect x="732" y="839" width="1" height="1" fill="#ff00ff"/><rect x="733" y="839" width="2" height="1" fill="#000080"/><rect x="735" y="839" width="1" height="1" fill="#ff00ff"/><rect x="736" y="839" width="1" height="1" fill="#00ff00"/><rect x="737" y="839" width="1" height="1" fill="#ff8000"/><rect x="738" y="839" width="3" height="1" fill="#000000"/><rect x="741" y="839" width="2" height="1" fill="#008000"/><rect x="743" y="839" width="1" height="1" fill="#0000ff"/><rect x="744" y="839" width="2" height="1" fill="#000000"/><rect x="746" y="839" width="3" height="1" fill="#000080"/><rect x="749" y="839" width="1" height="1" fill="#00ffff"/><rect x="750" y="839" width="1" height="1" fill="#ff8000"/><rect x="751" y="839" width="1" height="1" fill="#008000"/><rect x="752" y="839" width="2" height="1" fill="#101010"/><rect x="754" y="839" width="2" height="1" fill="#ff8000"/><rect x="756" y="839" width="1" height="1" fill="#00ff00"/><rect x="757" y="839" width="1" height="1" fill="#000000"/><rect x="758" y="839" width="5" height="1" fill="#ff00ff"/><rect x="763" y="839" width="3" height="1" fill="#0000ff"/><rect x="766" y="839" width="2" height="1" fill="#000000"/><rect x="768" y="839" width="3" height="1" fill="#ff0000"/><rect x="771" y="839" width="1" height="1" fill="#000080"/><rect x="772" y="839" width="1" height="1" fill="#000000"/><rect x="773" y="839" width="1" height="1" fill="#800000"/><rect x="774" y="839" width="2" height="1" fill="#000080"/><rect x="776" y="839" width="1" height="1" fill="#000000"/><rect x="777" y="839" width="1" height="1" fill="#008000"/><rect x="778" y="839" width="3" height="1" fill="#ff8000"/><rect x="781" y="839" width="1" height="1" fill="#0000ff"/><rect x="782" y="839" width="1" height="1" fill="#ff0000"/><rect x="783" y="839" width="2" height="1" fill="#00ff00"/><rect x="785" y="839" width="2" height="1" fill="#000080"/><rect x="787" y="839" width="1" height="1" fill="#000000"/><rect x="788" y="839" width="2" height="1" fill="#ff8000"/><rect x="790" y="839" width="1" height="1" fill="#800000"/><rect x="791" y="839" width="1" height="1" fill="#000080"/><rect x="792" y="839" width="1" height="1" fill="#0000ff"/><rect x="793" y="839" width="3" height="1" fill="#000000"/><rect x="796" y="839" width="3" height="1" fill="#0000ff"/><rect x="799" y="839" width="1" height="1" fill="#ff8000"/><rect x="800" y="839" width="1" height="1" fill="#101010"/><rect x="801" y="839" width="2" height="1" fill="#00ff00"/><rect x="803" y="839" width="1" height="1" fill="#ff0000"/><rect x="804" y="839" width="3" height="1" fill="#800000"/><rect x="807" y="839" width="1" height="1" fill="#ff8000"/><rect x="808" y="839" width="3" height="1" fill="#800000"/><rect x="811" y="839" width="2" height="1" fill="#00ff00"/><rect x="813" y="839" width="1" height="1" fill="#00ffff"/><rect x="814" y="839" width="1" height="1" fill="#008000"/><rect x="815" y="839" width="3" height="1" fill="#000000"/><rect x="818" y="839" width="2" height="1" fill="#00ff00"/><rect x="820" y="839" width="1" height="1" fill="#ffff00"/><rect x="821" y="839" width="1" height="1" fill="#800080"/><rect x="822" y="839" width="1" height="1" fill="#ff00ff"/><rect x="823" y="839" width="2" height="1" fill="#ff8000"/><rect x="825" y="839" width="1" height="1" fill="#000000"/><rect x="826" y="839" width="2" height="1" fill="#ff00ff"/><rect x="828" y="839" width="1" height="1" fill="#ff0000"/><rect x="829" y="839" width="1" height="1" fill="#0000ff"/><rect x="830" y="839" width="3" height="1" fill="#008000"/><rect x="833" y="839" width="1" height="1" fill="#800080"/><rect x="834" y="839" width="3" height="1" fill="#00ff00"/><rect x="837" y="839" width="1" height="1" fill="#101010"/><rect x="838" y="839" width="2" height="1" fill="#ff00ff"/><rect x="840" y="839" width="2" height="1" fill="#800080"/><rect x="842" y="839" width="1" height="1" fill="#000000"/><rect x="843" y="839" width="1" height="1" fill="#800080"/><rect x="844" y="839" width="1" height="1" fill="#000000"/><rect x="845" y="839" width="3" height="1" fill="#00ffff"/><rect x="848" y="839" width="1" height="1" fill="#ff00ff"/><rect x="849" y="839" width="2" height="1" fill="#800000"/><rect x="851" y="839" width="1" height="1" fill="#00ff00"/><rect x="852" y="839" width="1" height="1" fill="#00ffff"/><rect x="853" y="839" width="1" height="1" fill="#101010"/><rect x="854" y="839" width="1" height="1" fill="#000000"/><rect x="855" y="839" width="1" height="1" fill="#00ffff"/><rect x="856" y="839" width="2" height="1" fill="#ff0000"/><rect x="858" y="839" width="2" height="1" fill="#800000"/><rect x="860" y="839" width="1" height="1" fill="#101010"/><rect x="861" y="839" width="2" height="1" fill="#008000"/><rect x="863" y="839" width="2" height="1" fill="#00ff00"/><rect x="865" y="839" width="2" height="1" fill="#008000"/><rect x="867" y="839" width="2" height="1" fill="#101010"/><rect x="869" y="839" width="1" height="1" fill="#0000ff"/><rect x="870" y="839" width="1" height="1" fill="#800000"/><rect x="871" y="839" width="1" height="1" fill="#ff00ff"/><rect x="872" y="839" width="1" height="1" fill="#ffff00"/><rect x="873" y="839" width="3" height="1" fill="#000000"/><rect x="876" y="839" width="2" height="1" fill="#00ffff"/><rect x="878" y="839" width="1" height="1" fill="#800080"/><rect x="879" y="839" width="1" height="1" fill="#000000"/><rect x="880" y="839" width="1" height="1" fill="#ff8000"/><rect x="881" y="839" width="2" height="1" fill="#00ff00"/><rect x="883" y="839" width="2" height="1" fill="#800080"/><rect x="885" y="839" width="1" height="1" fill="#00ff00"/><rect x="886" y="839" width="1" height="1" fill="#000080"/><rect x="887" y="839" width="1" height="1" fill="#000000"/><rect x="888" y="839" width="3" height="1" fill="#00ff00"/><rect x="891" y="839" width="2" height="1" fill="#800000"/><rect x="893" y="839" width="2" height="1" fill="#ffff00"/><rect x="895" y="839" width="1" height="1" fill="#000000"/><rect x="896" y="839" width="2" height="1" fill="#00ff00"/><rect x="898" y="839" width="2" height="1" fill="#000080"/><rect x="900" y="839" width="1" height="1" fill="#ff00ff"/><rect x="901" y="839" width="1" height="1" fill="#800000"/><rect x="902" y="839" width="1" height="1" fill="#101010"/><rect x="903" y="839" width="2" height="1" fill="#000000"/><rect x="905" y="839" width="1" height="1" fill="#800080"/><rect x="906" y="839" width="3" height="1" fill="#000080"/><rect x="909" y="839" width="3" height="1" fill="#008000"/><rect x="912" y="839" width="2" height="1" fill="#000080"/><rect x="914" y="839" width="2" height="1" fill="#000000"/><rect x="916" y="839" width="1" height="1" fill="#800000"/><rect x="917" y="839" width="1" height="1" fill="#000000"/><rect x="918" y="839" width="2" height="1" fill="#101010"/><rect x="920" y="839" width="1" height="1" fill="#ff8000"/><rect x="921" y="839" width="3" height="1" fill="#800080"/><rect x="924" y="839" width="1" height="1" fill="#0000ff"/><rect x="925" y="839" width="1" height="1" fill="#800080"/><rect x="926" y="839" width="3" height="1" fill="#00ffff"/><rect x="929" y="839" width="3" height="1" fill="#00ff00"/><rect x="932" y="839" width="1" height="1" fill="#800000"/><rect x="933" y="839" width="1" height="1" fill="#000000"/><rect x="934" y="839" width="2" height="1" fill="#0000ff"/><rect x="936" y="839" width="1" height="1" fill="#ffff00"/><rect x="937" y="839" width="1" height="1" fill="#00ff00"/><rect x="938" y="839" width="2" height="1" fill="#101010"/><rect x="940" y="839" width="1" height="1" fill="#000000"/><rect x="941" y="839" width="1" height="1" fill="#00ffff"/><rect x="942" y="839" width="1" height="1" fill="#ff00ff"/><rect x="943" y="839" width="3" height="1" fill="#ff0000"/><rect x="946" y="839" width="1" height="1" fill="#000080"/><rect x="947" y="839" width="2" height="1" fill="#ff00ff"/><rect x="949" y="839" width="3" height="1" fill="#101010"/><rect x="952" y="839" width="3" height="1" fill="#00ff00"/><rect x="955" y="839" width="1" height="1" fill="#800080"/><rect x="956" y="839" width="1" height="1" fill="#000000"/><rect x="957" y="839" width="2" height="1" fill="#101010"/><rect x="959" y="839" width="3" height="1" fill="#ff8000"/><rect x="962" y="839" width="2" height="1" fill="#800080"/><rect x="964" y="839" width="1" height="1" fill="#000000"/><rect x="965" y="839" width="3" height="1" fill="#101010"/><rect x="968" y="839" width="1" height="1" fill="#00ff00"/><rect x="969" y="839" width="2" height="1" fill="#101010"/><rect x="971" y="839" width="3" height="1" fill="#000000"/><rect x="974" y="839" width="3" height="1" fill="#ff0000"/><rect x="977" y="839" width="1" height="1" fill="#00ff00"/><rect x="978" y="839" width="2" height="1" fill="#800080"/><rect x="980" y="839" width="1" height="1" fill="#101010"/><rect x="981" y="839" width="1" height="1" fill="#800000"/><rect x="982" y="839" width="2" height="1" fill="#008000"/><rect x="984" y="839" width="1" height="1" fill="#000000"/><rect x="985" y="839" width="1" height="1" fill="#ff00ff"/><rect x="986" y="839" width="1" height="1" fill="#0000ff"/><rect x="987" y="839" width="3" height="1" fill="#101010"/><rect x="990" y="839" width="1" height="1" fill="#800000"/><rect x="991" y="839" width="2" height="1" fill="#000000"/><rect x="993" y="839" width="2" height="1" fill="#ff00ff"/><rect x="995" y="839" width="1" height="1" fill="#000000"/><rect x="996" y="839" width="2" height="1" fill="#ff00ff"/><rect x="998" y="839" width="3" height="1" fill="#ff8000"/><rect x="1001" y="839" width="13" height="1" fill="#000000"/><rect x="1014" y="839" width="2" height="1" fill="#00ff00"/><rect x="1016" y="839" width="4" height="1" fill="#ff8000"/><rect x="1020" y="839" width="1" height="1" fill="#008000"/><rect x="1021" y="839" width="1" height="1" fill="#000000"/><rect x="1022" y="839" width="1" height="1" fill="#ff0000"/><rect x="1023" y="839" width="3" height="1" fill="#000000"/><rect x="1026" y="839" width="2" height="1" fill="#ff8000"/><rect x="1028" y="839" width="2" height="1" fill="#008000"/><rect x="1030" y="839" width="1" height="1" fill="#000000"/><rect x="1031" y="839" width="3" height="1" fill="#800080"/><rect x="1034" y="839" width="1" height="1" fill="#00ff00"/><rect x="1035" y="839" width="2" height="1" fill="#ff0000"/><rect x="1037" y="839" width="2" height="1" fill="#000000"/><rect x="1039" y="839" width="1" height="1" fill="#0000ff"/><rect x="1040" y="839" width="2" height="1" fill="#ff0000"/><rect x="1042" y="839" width="1" height="1" fill="#ff8000"/><rect x="1043" y="839" width="1" height="1" fill="#00ffff"/><rect x="1044" y="839" width="1" height="1" fill="#00ff00"/><rect x="1045" y="839" width="1" height="1" fill="#800000"/><rect x="1046" y="839" width="2" height="1" fill="#000080"/><rect x="1048" y="839" width="1" height="1" fill="#000000"/><rect x="1049" y="839" width="2" height="1" fill="#008000"/><rect x="1051" y="839" width="1" height="1" fill="#101010"/><rect x="1052" y="839" width="2" height="1" fill="#00ffff"/><rect x="1054" y="839" width="1" height="1" fill="#101010"/><rect x="1055" y="839" width="3" height="1" fill="#ff0000"/><rect x="1058" y="839" width="2" height="1" fill="#ff8000"/><rect x="1060" y="839" width="3" height="1" fill="#000000"/><rect x="1063" y="839" width="1" height="1" fill="#00ff00"/><rect x="1064" y="839" width="5" height="1" fill="#800000"/><rect x="1069" y="839" width="5" height="1" fill="#000000"/><rect x="1074" y="839" width="1" height="1" fill="#0000ff"/><rect x="1075" y="839" width="1" height="1" fill="#008000"/><rect x="1076" y="839" width="2" height="1" fill="#ff8000"/><rect x="1078" y="839" width="1" height="1" fill="#ff0000"/><rect x="1079" y="839" width="1" height="1" fill="#0000ff"/><rect x="1080" y="839" width="1" height="1" fill="#ffff00"/><rect x="1081" y="839" width="3" height="1" fill="#0000ff"/><rect x="1084" y="839" width="3" height="1" fill="#008000"/><rect x="1087" y="839" width="1" height="1" fill="#ff0000"/><rect x="1088" y="839" width="1" height="1" fill="#0000ff"/><rect x="1089" y="839" width="2" height="1" fill="#008000"/><rect x="1091" y="839" width="3" height="1" fill="#ff8000"/><rect x="1094" y="839" width="1" height="1" fill="#000000"/><rect x="1095" y="839" width="1" height="1" fill="#000080"/><rect x="1096" y="839" width="2" height="1" fill="#000000"/><rect x="1098" y="839" width="2" height="1" fill="#008000"/><rect x="1100" y="839" width="3" height="1" fill="#800000"/><rect x="1103" y="839" width="2" height="1" fill="#ff8000"/><rect x="1105" y="839" width="2" height="1" fill="#000080"/><rect x="1107" y="839" width="3" height="1" fill="#000000"/><rect x="1110" y="839" width="3" height="1" fill="#800000"/><rect x="1113" y="839" width="3" height="1" fill="#0000ff"/><rect x="1116" y="839" width="1" height="1" fill="#800000"/><rect x="1117" y="839" width="1" height="1" fill="#ffff00"/><rect x="1118" y="839" width="1" height="1" fill="#ff0000"/><rect x="1119" y="839" width="1" height="1" fill="#ff00ff"/><rect x="1120" y="839" width="2" height="1" fill="#800000"/><rect x="1122" y="839" width="2" height="1" fill="#000000"/><rect x="1124" y="839" width="2" height="1" fill="#101010"/><rect x="1126" y="839" width="1" height="1" fill="#800000"/><rect x="1127" y="839" width="2" height="1" fill="#101010"/><rect x="1129" y="839" width="5" height="1" fill="#000000"/><rect x="1134" y="839" width="2" height="1" fill="#00ffff"/><rect x="1136" y="839" width="1" height="1" fill="#ff0000"/><rect x="1137" y="839" width="1" height="1" fill="#00ff00"/><rect x="1138" y="839" width="1" height="1" fill="#000000"/><rect x="1139" y="839" width="1" height="1" fill="#ffff00"/><rect x="1140" y="839" width="1" height="1" fill="#101010"/><rect x="1141" y="839" width="2" height="1" fill="#00ff00"/><rect x="1143" y="839" width="2" height="1" fill="#008000"/><rect x="1145" y="839" width="3" height="1" fill="#000000"/><rect x="1148" y="839" width="2" height="1" fill="#ff00ff"/><rect x="1150" y="839" width="3" height="1" fill="#ff8000"/><rect x="1153" y="839" width="3" height="1" fill="#101010"/><rect x="1156" y="839" width="3" height="1" fill="#00ffff"/><rect x="1159" y="839" width="2" height="1" fill="#800000"/><rect x="1161" y="839" width="1" height="1" fill="#0000ff"/><rect x="1162" y="839" width="1" height="1" fill="#ffff00"/><rect x="1163" y="839" width="1" height="1" fill="#ff0000"/><rect x="1164" y="839" width="1" height="1" fill="#008000"/><rect x="1165" y="839" width="4" height="1" fill="#101010"/><rect x="1169" y="839" width="1" height="1" fill="#000000"/><rect x="1170" y="839" width="2" height="1" fill="#ff8000"/><rect x="1172" y="839" width="1" height="1" fill="#101010"/><rect x="1173" y="839" width="2" height="1" fill="#000000"/><rect x="1175" y="839" width="1" height="1" fill="#0000ff"/><rect x="1176" y="839" width="2" height="1" fill="#00ffff"/><rect x="1178" y="839" width="3" height="1" fill="#101010"/><rect x="1181" y="839" width="1" height="1" fill="#800000"/><rect x="1182" y="839" width="2" height="1" fill="#800080"/><rect x="1184" y="839" width="3" height="1" fill="#000000"/><rect x="1187" y="839" width="1" height="1" fill="#ff8000"/><rect x="1188" y="839" width="2" height="1" fill="#000080"/><rect x="1190" y="839" width="1" height="1" fill="#ff8000"/><rect x="1191" y="839" width="1" height="1" fill="#000000"/></g>
</svg></body></html>
